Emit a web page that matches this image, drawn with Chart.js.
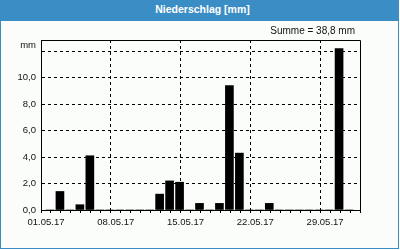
<!DOCTYPE html>
<html>
<head>
<meta charset="utf-8">
<script src="https://cdn.jsdelivr.net/npm/chart.js@4/dist/chart.umd.min.js"></script>
<style>
  html, body { margin: 0; padding: 0; background: #ffffff; }
  #frame { position: absolute; left: 0; top: 0; width: 399px; height: 249px; box-sizing: border-box;
           border: 1px solid #3b8ec5; background: #fbfdfb; }
  #titlebar { position: absolute; left: 0; top: 0; width: 399px; height: 21px; background: #3b8ec5;
              color: #ffffff; font: bold 10.5px "Liberation Sans", Arial, sans-serif; text-align: center;
              line-height: 19px; padding-left: 6px; box-sizing: border-box; }
  #summe { position: absolute; right: 45px; top: 25px; font: 10px "Liberation Sans", Arial, sans-serif; color: #111; }
  #unit { position: absolute; right: 364px; top: 39px; font: 9.5px "Liberation Sans", Arial, sans-serif; color: #111; }
  canvas { position: absolute; left: 0; top: 0; }
</style>
</head>
<body>
<div id="frame"></div>
<canvas id="c" width="400" height="250"></canvas>
<div id="titlebar">Niederschlag [mm]</div>
<div id="summe">Summe = 38,8 mm</div>
<div id="unit">mm</div>
<script>
// Day of month (May 2017) and daily precipitation [mm]
const days = [1,2,3,4,5,6,7,8,9,10,11,12,13,14,15,16,17,18,19,20,21,22,23,24,25,26,27,28,29,30,31];
const precip = [0,1.4,0,0.4,4.1,0,0,0,0,0,0,1.2,2.2,2.1,0,0.5,0,0.5,9.4,4.3,0,0,0.5,0,0,0,0,0,0,12.2,0];
// Labelled x ticks (days since 01.05.17) and their texts
const xTickDays = [0,7,14,21,28];
const xTickLabels = ['01.05.17','08.05.17','15.05.17','22.05.17','29.05.17'];
const yTicks = [0,2,4,6,8,10,12];
const yTickLabels = ['0,0','2,0','4,0','6,0','8,0','10,0',''];

const frameBox = {
  id: 'frameBox',
  afterDraw(chart) {
    const {ctx, chartArea: a} = chart;
    ctx.save();
    ctx.strokeStyle = '#000';
    ctx.lineWidth = 1;
    ctx.beginPath();
    ctx.moveTo(Math.round(a.left) + 0.5, Math.round(a.top) + 0.5);
    ctx.lineTo(Math.round(a.right) + 0.5, Math.round(a.top) + 0.5);
    ctx.lineTo(Math.round(a.right) + 0.5, Math.round(a.bottom) + 0.5);
    ctx.stroke();
    ctx.restore();
  }
};

const font = { family: '"Liberation Sans", Arial, sans-serif', size: 9.5 };

new Chart(document.getElementById('c'), {
  type: 'bar',
  data: {
    datasets: [{
      // each day's bar sits in the left part of its day interval
      data: days.map((d, i) => ({ x: d - 0.6, y: precip[i] })),
      backgroundColor: '#000',
      borderWidth: 0,
      barThickness: 8
    }]
  },
  options: {
    responsive: false,
    animation: false,
    layout: { padding: { left: 0, top: 40, right: 40, bottom: 0 } },
    plugins: { legend: { display: false }, tooltip: { enabled: false } },
    scales: {
      x: {
        type: 'linear', min: 0, max: 31,
        afterFit(s) { s.height = 40; },
        ticks: {
          stepSize: 1, autoSkip: false, maxRotation: 0, padding: 4, color: '#111', font,
          callback(v) { const k = xTickDays.indexOf(v); return k >= 0 ? xTickLabels[k] : ''; }
        },
        grid: {
          color(c) { const v = c.tick && c.tick.value; return (v > 0 && v < 31 && xTickDays.includes(v)) ? '#000' : 'rgba(0,0,0,0)'; },
          tickColor: '#000', tickLength: 3, lineWidth: 1, tickBorderDash: []
        },
        border: { display: true, color: '#000', width: 1, dash: [3, 3] }
      },
      y: {
        min: 0, max: 12.85,
        afterFit(s) { s.width = 41; },
        ticks: {
          stepSize: 2, includeBounds: false, padding: 5, color: '#111', font,
          callback(v) { const k = yTicks.indexOf(v); return k >= 0 ? yTickLabels[k] : ''; }
        },
        grid: {
          drawTicks: false,
          color(c) { const v = c.tick && c.tick.value; return (v > 0) ? '#000' : 'rgba(0,0,0,0)'; },
          lineWidth: 1
        },
        border: { display: true, color: '#000', width: 1, dash: [3, 3] }
      }
    }
  },
  plugins: [frameBox]
});
</script>
</body>
</html>
